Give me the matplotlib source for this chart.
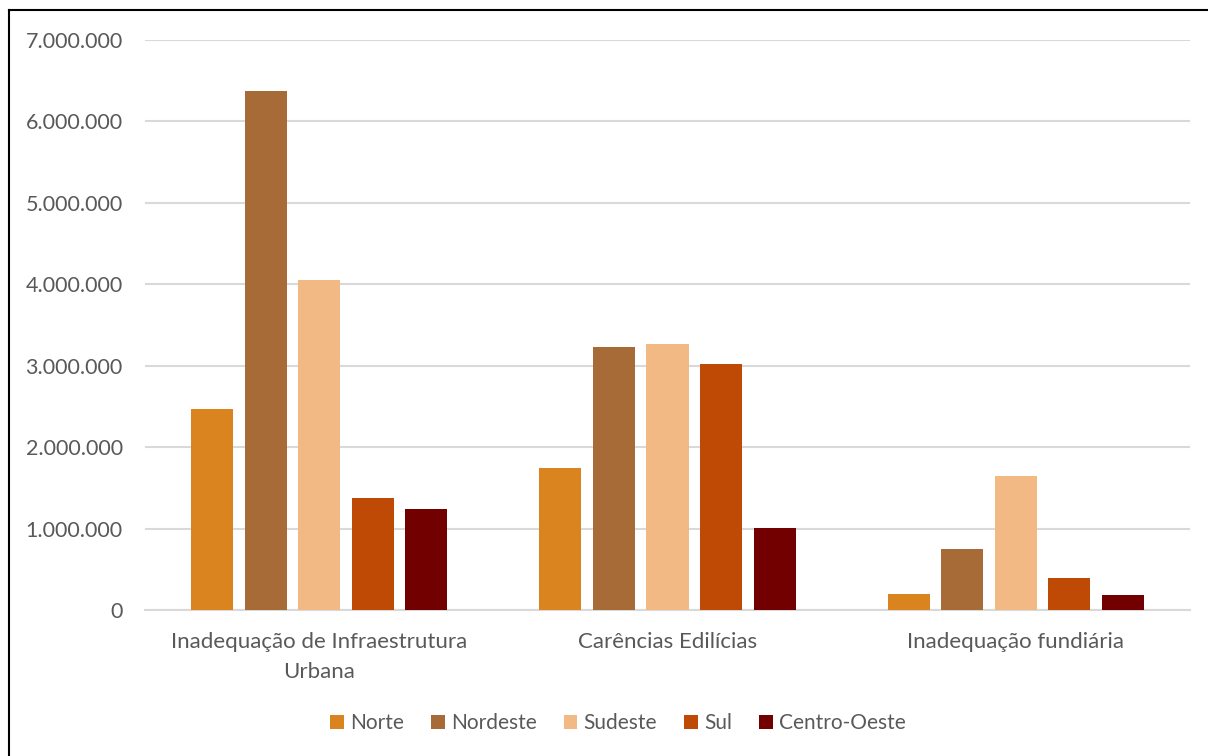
import matplotlib
matplotlib.use("Agg")
import matplotlib.pyplot as plt
import numpy as np
from matplotlib.lines import Line2D
from matplotlib.ticker import FuncFormatter

categories = ["Inadequação de Infraestrutura\nUrbana", "Carências Edilícias", "Inadequação fundiária"]
regions = ["Norte", "Nordeste", "Sudeste", "Sul", "Centro-Oeste"]
norte = [2468000, 1744000, 196000]
nordeste = [6374000, 3230000, 749000]
sudeste = [4053000, 3267000, 1646000]
sul = [1375000, 3020000, 393000]
centro_oeste = [1240000, 1007000, 184000]
series = [norte, nordeste, sudeste, sul, centro_oeste]
colors = ["#D9841E", "#A66B37", "#F2B985", "#BF4A05", "#730000"]
yticks = [0, 1000000, 2000000, 3000000, 4000000, 5000000, 6000000, 7000000]

plt.rcParams['font.family'] = ['Lato', 'DejaVu Sans']

fig = plt.figure(figsize=(12.08, 7.56), dpi=100)
ax = fig.add_axes([145/1208, 1-610/756, (1190-145)/1208, 570/756])

x = np.arange(len(categories))
width = 0.1207
step = 0.1537
for i, (vals, col, name) in enumerate(zip(series, colors, regions)):
    ax.bar(x + (i-2)*step, vals, width, color=col, label=name, zorder=3)

ax.set_xlim(-0.5, 2.5)
ax.set_ylim(0, 7000000)
ax.set_yticks(yticks)
ax.yaxis.set_major_formatter(FuncFormatter(lambda v, p: f"{int(v):,}".replace(",", ".")))
ax.set_xticks(x)
ax.set_xticklabels(categories, linespacing=1.6)
ax.grid(axis='y', color='#D9D9D9', linewidth=1.5, zorder=0)
for s in ['top', 'right', 'left']:
    ax.spines[s].set_visible(False)
ax.spines['bottom'].set_color('#D9D9D9')
ax.spines['bottom'].set_linewidth(1.5)
ax.tick_params(axis='both', length=0, colors='#595959')
ax.tick_params(axis='y', pad=16, labelsize=15.5)
ax.tick_params(axis='x', pad=16, labelsize=16)

leg = fig.legend(loc='center', bbox_to_anchor=(618/1208, 1-723/756), ncol=5, frameon=False,
                 fontsize=15, handlelength=0.65, handleheight=0.65, handletextpad=0.3,
                 columnspacing=1.3, labelcolor='#595959')

# chart border (top and left)
fig.add_artist(Line2D([9/1208, 9/1208], [0, 1-10/756], transform=fig.transFigure, color='black', linewidth=1.5))
fig.add_artist(Line2D([9/1208, 1], [1-10/756, 1-10/756], transform=fig.transFigure, color='black', linewidth=1.5))

fig.savefig("out.png", dpi=100)
